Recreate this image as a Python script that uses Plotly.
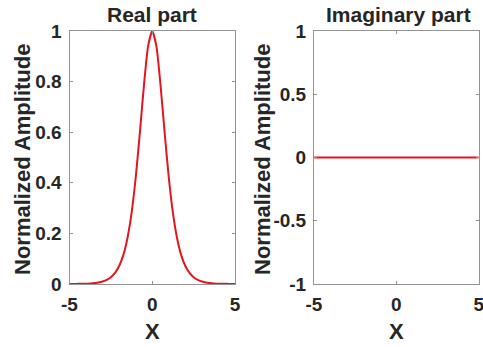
import plotly.graph_objects as go

# Sampled profile of the field (real and imaginary parts) vs X
x_real = [-5.0, -4.75, -4.5, -4.25, -4.0, -3.75, -3.5, -3.25, -3.0, -2.75,
          -2.5, -2.25, -2.0, -1.75, -1.5, -1.25, -1.0, -0.75, -0.5, -0.25,
          0.0, 0.25, 0.5, 0.75, 1.0, 1.25, 1.5, 1.75, 2.0, 2.25,
          2.5, 2.75, 3.0, 3.25, 3.5, 3.75, 4.0, 4.25, 4.5, 4.75, 5.0]
real_part = [0.0002, 0.0003, 0.0005, 0.0008, 0.001, 0.002, 0.004, 0.006, 0.010, 0.016,
             0.027, 0.044, 0.071, 0.114, 0.181, 0.280, 0.420, 0.597, 0.786, 0.940,
             1.000, 0.940, 0.786, 0.597, 0.420, 0.280, 0.181, 0.114, 0.071, 0.044,
             0.027, 0.016, 0.010, 0.006, 0.004, 0.002, 0.001, 0.0008, 0.0005, 0.0003, 0.0002]

x_imag = [-5, -4, -3, -2, -1, 0, 1, 2, 3, 4, 5]
imag_part = [0, 0, 0, 0, 0, 0, 0, 0, 0, 0, 0]

x_ticks = [-5, 0, 5]
real_ticks = [0, 0.2, 0.4, 0.6, 0.8, 1]
real_ticktext = ["0", "0.2", "0.4", "0.6", "0.8", "1"]
imag_ticks = [-1, -0.5, 0, 0.5, 1]
imag_ticktext = ["-1", "-0.5", "0", "0.5", "1"]

W, H = 483, 347
FONT = "Liberation Sans, Arial, sans-serif"
TXT = "#262626"
RED = "rgb(226,22,30)"
FRAME = "#939393"


def px(v):
    return v / W


def py(v):
    return 1 - v / H


fig = go.Figure()
fig.add_trace(go.Scatter(x=x_real, y=real_part, mode="lines",
                         line=dict(color=RED, width=2, shape="spline", smoothing=0.6),
                         xaxis="x", yaxis="y", showlegend=False, hoverinfo="skip"))
fig.add_trace(go.Scatter(x=x_imag, y=imag_part, mode="lines",
                         line=dict(color=RED, width=2),
                         xaxis="x2", yaxis="y2", showlegend=False, hoverinfo="skip"))

tickfont = dict(family=FONT, size=19, color=TXT, weight="bold")
axis_common = dict(showline=True, linecolor=FRAME, linewidth=1, mirror="ticks",
                   ticks="inside", ticklen=3, tickcolor=FRAME, showgrid=False,
                   zeroline=False, tickfont=tickfont, fixedrange=True,
                   ticklabeloverflow="allow")

plot_top, plot_bot = 31, 284
left_x = (69.5, 235)
right_x = (314, 478.7)

fig.update_layout(
    width=W, height=H,
    margin=dict(l=0, r=0, t=0, b=0, autoexpand=False),
    paper_bgcolor="white", plot_bgcolor="white",
    xaxis=dict(domain=[px(left_x[0]), px(left_x[1])], range=[-5, 5],
               tickvals=x_ticks, ticktext=["-5", "0", "5"], anchor="y",
               ticklabelstandoff=3, **axis_common),
    yaxis=dict(domain=[py(plot_bot), py(plot_top)], range=[0, 1],
               tickvals=real_ticks, ticktext=real_ticktext, anchor="x",
               ticklabelstandoff=3, **axis_common),
    xaxis2=dict(domain=[px(right_x[0]), px(right_x[1])], range=[-5, 5],
                tickvals=x_ticks, ticktext=["-5", "0", "5"], anchor="y2",
                ticklabelstandoff=3, **axis_common),
    yaxis2=dict(domain=[py(plot_bot), py(plot_top)], range=[-1, 1],
                tickvals=imag_ticks, ticktext=imag_ticktext, anchor="x2",
                ticklabelstandoff=3, **axis_common),
)

title_font = dict(family=FONT, size=21, color=TXT, weight="bold")
label_font = dict(family=FONT, size=22, color=TXT, weight="bold")
xlabel_font = dict(family=FONT, size=22, color=TXT, weight="bold")

annotations = [
    dict(text="Real part", x=px(152.3), y=py(15), font=title_font),
    dict(text="Imaginary part", x=px(398), y=py(15), font=title_font),
    dict(text="Normalized Amplitude", x=px(22), y=py(160), font=label_font, textangle=-90),
    dict(text="Normalized Amplitude", x=px(262), y=py(160), font=label_font, textangle=-90),
    dict(text="X", x=px(152.3), y=py(331), font=xlabel_font),
    dict(text="X", x=px(396.3), y=py(331), font=xlabel_font),
]
for a in annotations:
    fig.add_annotation(xref="paper", yref="paper", showarrow=False,
                       xanchor="center", yanchor="middle", **a)

fig.write_html("out.html", config=dict(displayModeBar=False))
